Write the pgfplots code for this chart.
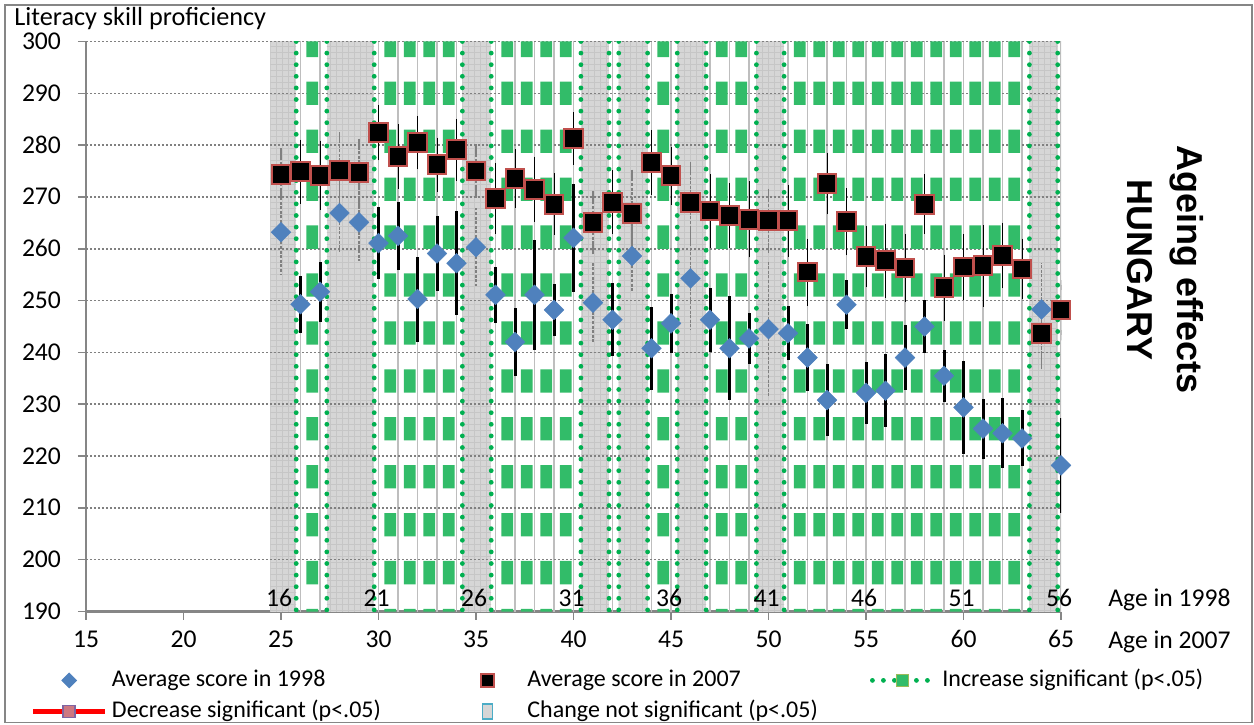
\documentclass[border=0pt]{standalone}
\usepackage{pgfplots}
\pgfplotsset{compat=1.18}
\usepackage{pgfplotstable}
\usepackage{fontspec}
\setmainfont{Carlito}
\newfontfamily\arialfont{Liberation Sans}
\usetikzlibrary{patterns}

\definecolor{gblue}{RGB}{79,129,189}
\definecolor{gred}{RGB}{192,80,77}
\definecolor{ggreen}{RGB}{0,176,80}
\definecolor{rectgreen}{RGB}{50,188,105}
\definecolor{bandgray}{RGB}{214,214,214}
\definecolor{bandpat}{RGB}{198,198,198}
\definecolor{axgray}{RGB}{134,134,134}
\definecolor{vgridc}{RGB}{190,190,190}
\definecolor{hgridc}{RGB}{128,128,128}
\definecolor{purp}{RGB}{128,100,162}
\definecolor{cblue}{RGB}{75,172,198}
\definecolor{olive}{RGB}{155,187,89}
\definecolor{decfill}{RGB}{205,120,130}

\newcommand\tickfont{\fontsize{12.8}{15}\selectfont}
\newcommand\legfont{\fontsize{12}{14}\selectfont}
\newcommand\titlefont{\fontsize{13.1}{15}\selectfont}
\newcommand\sidefont{\arialfont\bfseries\fontsize{18}{25}\selectfont}

% one column of green blocks (pattern of the significance columns)
% y unit = 2.5909pt: blocks 4.5 units high, every 9.25 units, centred on 243.75
\pgfdeclareplotmark{gcol}{%
  \pgfpathrectanglecorners{\pgfpoint{-2.925pt}{-125.66pt}}{\pgfpoint{2.925pt}{-114.00pt}}%
  \pgfpathrectanglecorners{\pgfpoint{-2.925pt}{-101.69pt}}{\pgfpoint{2.925pt}{-90.03pt}}%
  \pgfpathrectanglecorners{\pgfpoint{-2.925pt}{-77.73pt}}{\pgfpoint{2.925pt}{-66.07pt}}%
  \pgfpathrectanglecorners{\pgfpoint{-2.925pt}{-53.76pt}}{\pgfpoint{2.925pt}{-42.10pt}}%
  \pgfpathrectanglecorners{\pgfpoint{-2.925pt}{-29.80pt}}{\pgfpoint{2.925pt}{-18.14pt}}%
  \pgfpathrectanglecorners{\pgfpoint{-2.925pt}{-5.83pt}}{\pgfpoint{2.925pt}{5.83pt}}%
  \pgfpathrectanglecorners{\pgfpoint{-2.925pt}{18.14pt}}{\pgfpoint{2.925pt}{29.80pt}}%
  \pgfpathrectanglecorners{\pgfpoint{-2.925pt}{42.10pt}}{\pgfpoint{2.925pt}{53.76pt}}%
  \pgfpathrectanglecorners{\pgfpoint{-2.925pt}{66.07pt}}{\pgfpoint{2.925pt}{77.73pt}}%
  \pgfpathrectanglecorners{\pgfpoint{-2.925pt}{90.03pt}}{\pgfpoint{2.925pt}{101.69pt}}%
  \pgfpathrectanglecorners{\pgfpoint{-2.925pt}{114.00pt}}{\pgfpoint{2.925pt}{125.66pt}}%
  \pgfpathrectanglecorners{\pgfpoint{-2.925pt}{137.97pt}}{\pgfpoint{2.925pt}{145.74pt}}%
  \pgfpathrectanglecorners{\pgfpoint{-2.925pt}{-139.26pt}}{\pgfpoint{2.925pt}{-137.97pt}}%
  \pgfusepathqfill
}

\pgfplotstableread{
age y98 e98 y07 e07
26 249.3 5.5 274.9 5.2
27 251.7 5.8 274.2 5.7
30 261.1 7.0 282.4 4.4
31 262.5 6.6 277.8 5.3
32 250.3 8.2 280.5 4.2
33 259.1 7.2 276.2 4.3
34 257.2 10.0 279.1 5.0
36 251.1 5.4 269.7 5.8
37 242.0 6.5 273.5 4.7
38 251.1 10.6 271.5 5.3
39 248.2 5.0 268.6 5.0
40 262.1 10.4 281.3 4.1
42 246.3 7.0 269.0 5.2
44 240.8 8.0 276.7 5.3
45 245.6 5.7 274.1 4.6
47 246.3 6.2 267.3 6.1
48 240.8 10.0 266.4 5.3
49 242.7 4.9 265.7 6.4
51 243.7 5.2 265.4 6.0
52 239.0 6.4 255.5 5.5
53 230.8 6.9 272.6 5.0
54 249.2 4.7 265.2 5.5
55 232.2 6.0 258.5 5.0
56 232.6 7.0 257.7 6.2
57 239.0 6.3 256.3 5.6
58 245.0 5.2 268.6 4.8
59 235.5 5.0 252.5 5.4
60 229.4 9.0 256.5 5.4
61 225.3 5.8 256.7 6.9
62 224.4 6.8 258.7 5.4
63 223.4 5.4 256.1 4.9
65 218.2 9.2 248.2 4.9
}\sig

\pgfplotstableread{
age y98 e98 y07 e07
25 263.2 8.0 274.4 4.0
28 266.9 7.5 275.1 6.5
29 265.1 7.5 274.7 5.6
35 260.3 7.5 275.0 4.2
41 249.6 7.7 265.0 5.1
43 258.6 7.0 266.8 7.5
46 254.3 10.0 268.9 6.8
50 244.5 13.0 265.4 5.2
64 248.3 9.0 243.7 6.0
}\nonsig

% centres of the visible green block columns
\pgfplotstableread{
cx cy
26.6 243.75
30.6 243.75
31.6 243.75
32.6 243.75
33.6 243.75
36.6 243.75
37.6 243.75
38.6 243.75
39.6 243.75
44.6 243.75
47.6 243.75
48.6 243.75
51.6 243.75
52.6 243.75
53.6 243.75
54.6 243.75
55.6 243.75
56.6 243.75
57.6 243.75
58.6 243.75
59.6 243.75
60.6 243.75
61.6 243.75
62.6 243.75
}\gcols

\begin{document}
\begin{tikzpicture}
\useasboundingbox (-43pt,-56.25pt) rectangle (584pt,305.75pt);
\begin{axis}[
  at={(0pt,0pt)}, anchor=south west,
  x=9.75pt, y=2.5909pt,
  xmin=15, xmax=65, ymin=190, ymax=300,
  axis lines*=left,
  x axis line style={axgray, line width=1.2pt},
  y axis line style={axgray, line width=0.75pt},
  xtick={15,20,...,65}, ytick={190,200,...,300},
  tick align=outside, major tick length=4pt,
  tick style={axgray, line width=0.75pt},
  ticklabel style={font=\tickfont, text=black},
  /pgf/number format/assume math mode=true,
  xticklabel style={anchor=base, yshift=-14pt},
  yticklabel style={anchor=base east, yshift=-4pt, xshift=-5pt},
]
% vertical grid lines at each age
\pgfplotsinvokeforeach{25,...,65}{
  \addplot[forget plot, vgridc, line width=0.6pt] coordinates {(#1,190) (#1,300)};
}
% grey bands (change not significant)
\addplot[forget plot, fill=bandgray, draw=none, postaction={pattern=grid, pattern color=bandpat}] coordinates {(24.45,190) (24.45,300) (25.78,300) (25.78,190)} -- cycle;
\addplot[forget plot, fill=bandgray, draw=none, postaction={pattern=grid, pattern color=bandpat}] coordinates {(27.35,190) (27.35,300) (29.78,300) (29.78,190)} -- cycle;
\addplot[forget plot, fill=bandgray, draw=none, postaction={pattern=grid, pattern color=bandpat}] coordinates {(34.3,190) (34.3,300) (35.78,300) (35.78,190)} -- cycle;
\addplot[forget plot, fill=bandgray, draw=none, postaction={pattern=grid, pattern color=bandpat}] coordinates {(40.38,190) (40.38,300) (41.82,300) (41.82,190)} -- cycle;
\addplot[forget plot, fill=bandgray, draw=none, postaction={pattern=grid, pattern color=bandpat}] coordinates {(42.32,190) (42.32,300) (43.8,300) (43.8,190)} -- cycle;
\addplot[forget plot, fill=bandgray, draw=none, postaction={pattern=grid, pattern color=bandpat}] coordinates {(45.32,190) (45.32,300) (46.8,300) (46.8,190)} -- cycle;
\addplot[forget plot, fill=bandgray, draw=none, postaction={pattern=grid, pattern color=bandpat}] coordinates {(49.38,190) (49.38,300) (50.8,300) (50.8,190)} -- cycle;
\addplot[forget plot, fill=bandgray, draw=none, postaction={pattern=grid, pattern color=bandpat}] coordinates {(63.38,190) (63.38,300) (64.83,300) (64.83,190)} -- cycle;
% horizontal dotted grid lines
\pgfplotsinvokeforeach{200,210,...,300}{
  \addplot[forget plot, hgridc, line width=0.75pt, dash pattern=on 0.8pt off 1.2pt] coordinates {(15,#1) (65,#1)};
}
% green blocks (increase significant)
\addplot[forget plot, only marks, mark=gcol, color=rectgreen, mark options={fill=rectgreen}] table[x=cx, y=cy] {\gcols};
% green dotted band borders
\pgfplotsinvokeforeach{25.78,27.35,29.78,34.3,35.78,40.38,41.82,42.32,43.8,45.32,46.8,49.38,50.8,63.38,64.83}{
  \addplot[forget plot, ggreen, line width=2.4pt, line cap=round, dash pattern=on 0pt off 5.8pt] coordinates {(#1,300) (#1,190)};
}
% 1998 scores
\addplot[forget plot, only marks, mark=square*, mark size=3.5pt,
  mark options={rotate=45, fill=gblue, draw=gblue, line width=0.2pt},
  error bars/.cd, y dir=both, y explicit, error mark=none,
  error bar style={hgridc, line width=0.8pt, dash pattern=on 1.5pt off 0.8pt}]
  table[x=age, y=y98, y error=e98] {\nonsig};
\addplot[forget plot, only marks, mark=square*, mark size=3.5pt,
  mark options={rotate=45, fill=gblue, draw=gblue, line width=0.2pt},
  error bars/.cd, y dir=both, y explicit, error mark=none,
  error bar style={black, line width=1.5pt}]
  table[x=age, y=y98, y error=e98] {\sig};
% 2007 scores
\addplot[forget plot, only marks, mark=square*, mark size=4.7pt,
  mark options={fill=black, draw=gred, line width=1pt},
  error bars/.cd, y dir=both, y explicit, error mark=-,
  error mark options={hgridc, mark size=2.5pt, line width=0.6pt},
  error bar style={hgridc, line width=0.6pt, dash pattern=on 1.5pt off 0.8pt}]
  table[x=age, y=y07, y error=e07] {\nonsig};
\addplot[forget plot, only marks, mark=square*, mark size=4.7pt,
  mark options={fill=black, draw=gred, line width=1pt},
  error bars/.cd, y dir=both, y explicit, error mark=-,
  error mark options={black, mark size=2.5pt, line width=0.5pt},
  error bar style={black, line width=0.5pt}]
  table[x=age, y=y07, y error=e07] {\sig};
\end{axis}

% legend column 1
\begin{axis}[at={(0pt,0pt)}, anchor=south west, hide axis, scale only axis,
  width=100pt, height=100pt, xmin=0, xmax=1, ymin=0, ymax=1,
  legend cell align=left,
  legend style={at={(-0.28,-0.2825)}, anchor=north west, draw=none, fill=none,
    inner sep=0pt, row sep=3.5pt, column sep=2pt, font=\legfont,
    nodes={inner sep=0pt, text height=9pt, text depth=3pt}}]
\addlegendimage{legend image code/.code={
  \path[draw=none, fill=none] (0pt,-5pt) rectangle (36pt,5pt);
  \draw[mark=square*, mark size=2.6pt, mark options={rotate=45, fill=gblue, draw=gblue}] plot coordinates {(18pt,0pt)};}}
\addlegendentry{Average score in 1998}
\addlegendimage{legend image code/.code={
  \path[draw=none, fill=none] (0pt,-5pt) rectangle (36pt,5pt);
  \draw[red, line width=2.8pt] (0pt,0pt) -- (36pt,0pt);
  \draw[fill=decfill, draw=purp, line width=0.8pt] (15pt,-3pt) rectangle (21pt,3pt);}}
\addlegendentry{Decrease significant (p<.05)}
\end{axis}

% legend column 2
\begin{axis}[at={(0pt,0pt)}, anchor=south west, hide axis, scale only axis,
  width=100pt, height=100pt, xmin=0, xmax=1, ymin=0, ymax=1,
  legend cell align=left,
  legend style={at={(1.825,-0.2825)}, anchor=north west, draw=none, fill=none,
    inner sep=0pt, row sep=3.5pt, column sep=2pt, font=\legfont,
    nodes={inner sep=0pt, text height=9pt, text depth=3pt}}]
\addlegendimage{legend image code/.code={
  \path[draw=none, fill=none] (0pt,-5pt) rectangle (36pt,5pt);
  \draw[mark=square*, mark size=3.2pt, mark options={fill=black, draw=gred, line width=0.8pt}] plot coordinates {(18pt,0pt)};}}
\addlegendentry{Average score in 2007}
\addlegendimage{legend image code/.code={
  \path[draw=none, fill=none] (0pt,-5pt) rectangle (36pt,5pt);
  \draw[fill=bandgray, draw=cblue, line width=0.8pt] (15.5pt,-3.75pt) rectangle (20.5pt,3.75pt);}}
\addlegendentry{Change not significant (p<.05)}
\end{axis}

% legend column 3
\begin{axis}[at={(0pt,0pt)}, anchor=south west, hide axis, scale only axis,
  width=100pt, height=100pt, xmin=0, xmax=1, ymin=0, ymax=1,
  legend cell align=left,
  legend style={at={(3.90,-0.2825)}, anchor=north west, draw=none, fill=none,
    inner sep=0pt, row sep=3.5pt, column sep=2pt, font=\legfont,
    nodes={inner sep=0pt, text height=9pt, text depth=3pt}}]
\addlegendimage{legend image code/.code={
  \path[draw=none, fill=none] (0pt,-5pt) rectangle (36pt,5pt);
  \draw[ggreen, line width=2.4pt, line cap=round, dash pattern=on 0pt off 5.5pt] (3pt,0pt) -- (33pt,0pt);
  \draw[fill=rectgreen, draw=olive, line width=0.8pt] (15pt,-3pt) rectangle (21pt,3pt);}}
\addlegendentry{Increase significant (p<.05)}
\end{axis}

% ages in 1998, under the 2007 ages
\foreach \a/\b in {25/16,30/21,35/26,40/31,45/36,50/41,55/46,60/51,65/56}{
  \node[anchor=base, inner sep=0pt, font=\tickfont] at ({(\a-15)*9.75pt-1pt},2.5pt) {\b};
}
% chart frame and texts
\draw[axgray, line width=0.6pt] (-40.5pt,-55.5pt) rectangle (583pt,303.25pt);
\node[anchor=base west, inner sep=0pt, font=\titlefont] at (-36pt,293pt) {Literacy skill proficiency};
\node[anchor=base west, inner sep=0pt, font=\tickfont] at (511pt,2.75pt) {Age in 1998};
\node[anchor=base west, inner sep=0pt, font=\tickfont] at (511pt,-18.25pt) {Age in 2007};
\node[rotate=-90, align=center, font=\sidefont, inner sep=0pt] at (539.75pt,170.75pt) {Ageing effects\\HUNGARY};
\end{tikzpicture}
\end{document}
